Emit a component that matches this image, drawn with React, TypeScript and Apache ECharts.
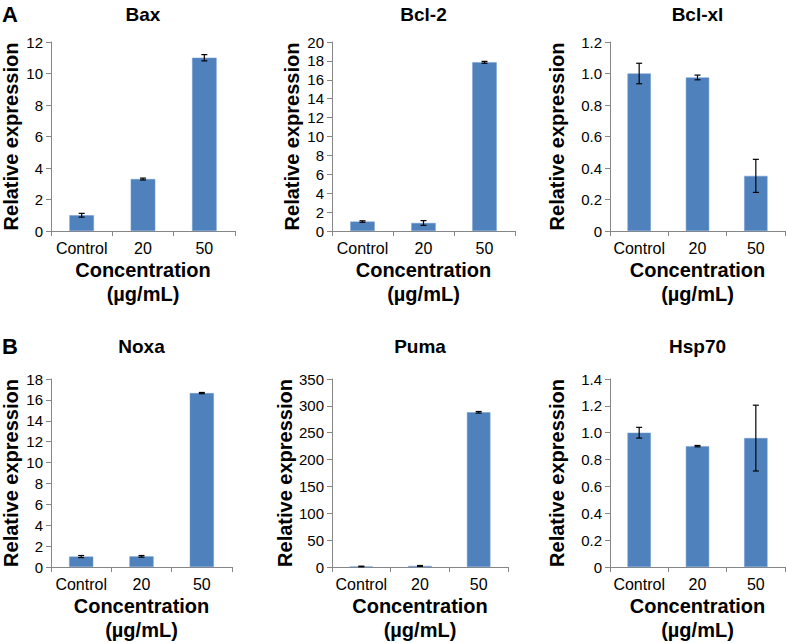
import React, { useEffect, useRef } from "react";
import * as echarts from "echarts";

const categories = ["Control", "20", "50"];

const baxValues = [1.0, 3.3, 11.0];
const baxErrors = [0.12, 0.06, 0.2];
const bcl2Values = [1.0, 0.85, 17.85];
const bcl2Errors = [0.08, 0.25, 0.1];
const bclxlValues = [1.0, 0.975, 0.35];
const bclxlErrors = [0.065, 0.015, 0.105];
const noxaValues = [1.0, 1.02, 16.65];
const noxaErrors = [0.1, 0.08, 0.06];
const pumaValues = [1.0, 2.0, 288];
const pumaErrors = [0.6, 0.8, 1.5];
const hsp70Values = [1.0, 0.9, 0.96];
const hsp70Errors = [0.04, 0.005, 0.245];

const panelTitles = ["Bax", "Bcl-2", "Bcl-xl", "Noxa", "Puma", "Hsp70"];
const yMax = [12, 20, 1.2, 18, 350, 1.4];
const yStep = [2, 2, 0.2, 2, 50, 0.2];
const yDecimals = [0, 0, 1, 0, 0, 1];

const FONT = "'Liberation Sans', Arial, Helvetica, sans-serif";
const BAR = "#4F81BD";
const AXIS = "#868686";

// layout: left, top, width, height, yNameGap
const layout = [
  [51, 42, 184, 189, 30],
  [332, 42, 183, 189, 30],
  [610, 42, 175, 189, 43],
  [51, 379, 181, 189, 30],
  [332, 379, 176, 189, 30],
  [610, 379, 175, 189, 43],
];

export default function App() {
  const ref = useRef<HTMLDivElement>(null);
  useEffect(() => {
    document.body.style.margin = "0";
    if (!ref.current) return;
    const chart = echarts.init(ref.current, null, { renderer: "svg" });
    const values = [baxValues, bcl2Values, bclxlValues, noxaValues, pumaValues, hsp70Values];
    const errors = [baxErrors, bcl2Errors, bclxlErrors, noxaErrors, pumaErrors, hsp70Errors];

    const grid: any[] = [];
    const xAxis: any[] = [];
    const yAxis: any[] = [];
    const series: any[] = [];
    const graphic: any[] = [];

    layout.forEach((l, i) => {
      const [left, top, width, height, gap] = l;
      grid.push({ left, top, width, height });
      xAxis.push({
        type: "category",
        gridIndex: i,
        data: categories,
        boundaryGap: true,
        axisLine: { lineStyle: { color: AXIS, width: 1 } },
        axisTick: { show: true, length: 5, lineStyle: { color: AXIS } },
        axisLabel: {
          color: "#000",
          fontSize: 16,
          fontFamily: FONT,
          margin: 9,
          interval: 0,
          hideOverlap: false,
        },
        name: "Concentration\n(µg/mL)",
        nameLocation: "middle",
        nameGap: 27,
        nameTextStyle: {
          color: "#000",
          fontSize: 20,
          fontWeight: "bold",
          fontFamily: FONT,
          lineHeight: 24,
        },
      });
      yAxis.push({
        type: "value",
        gridIndex: i,
        min: 0,
        max: yMax[i],
        interval: yStep[i],
        splitLine: { show: false },
        axisLine: { show: true, lineStyle: { color: AXIS, width: 1 } },
        axisTick: { show: true, length: 5, lineStyle: { color: AXIS } },
        axisLabel: {
          color: "#000",
          fontSize: 15,
          fontFamily: FONT,
          margin: 8,
          formatter: (v: number) => (v === 0 ? "0" : v.toFixed(yDecimals[i])),
        },
        name: "Relative expression",
        nameLocation: "middle",
        nameGap: gap,
        nameTextStyle: {
          color: "#000",
          fontSize: 20,
          fontWeight: "bold",
          fontFamily: FONT,
        },
      });
      series.push({
        type: "bar",
        xAxisIndex: i,
        yAxisIndex: i,
        data: values[i],
        barCategoryGap: "60%",
        itemStyle: { color: BAR, borderColor: "#6f9bd0", borderWidth: 0.5 },
      });
      series.push({
        type: "custom",
        xAxisIndex: i,
        yAxisIndex: i,
        z: 10,
        data: values[i].map((v, k) => [k, v - errors[i][k], v + errors[i][k]]),
        renderItem: (params: any, api: any) => {
          const idx = api.value(0);
          const lo = api.coord([idx, api.value(1)]);
          const hi = api.coord([idx, api.value(2)]);
          const cap = 3;
          const style = { stroke: "#000", lineWidth: 1.2 };
          return {
            type: "group",
            children: [
              { type: "line", shape: { x1: hi[0], y1: hi[1], x2: lo[0], y2: lo[1] }, style },
              { type: "line", shape: { x1: hi[0] - cap, y1: hi[1], x2: hi[0] + cap, y2: hi[1] }, style },
              { type: "line", shape: { x1: lo[0] - cap, y1: lo[1], x2: lo[0] + cap, y2: lo[1] }, style },
            ],
          };
        },
      });
      graphic.push({
        type: "text",
        x: left + width / 2,
        y: i < 3 ? 14 : 346,
        style: {
          text: panelTitles[i],
          textAlign: "center",
          textVerticalAlign: "middle",
          font: `bold 19px ${FONT}`,
          fill: "#000",
        },
      });
    });

    graphic.push({
      type: "text",
      x: 2,
      y: 14,
      style: { text: "A", textVerticalAlign: "middle", font: `bold 22px ${FONT}`, fill: "#000" },
    });
    graphic.push({
      type: "text",
      x: 2,
      y: 346,
      style: { text: "B", textVerticalAlign: "middle", font: `bold 22px ${FONT}`, fill: "#000" },
    });

    chart.setOption({
      animation: false,
      backgroundColor: "#fff",
      grid,
      xAxis,
      yAxis,
      series,
      graphic,
    });
    return () => chart.dispose();
  }, []);
  return <div ref={ref} style={{ width: 787, height: 643 }} />;
}
